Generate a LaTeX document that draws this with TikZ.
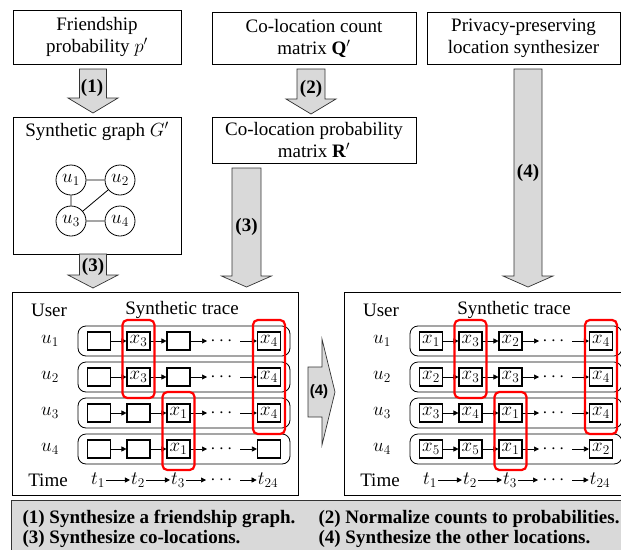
\RequirePackage{fix-cm}
\documentclass[tikz,border=0pt]{standalone}
\usepackage{amsmath}
\usepackage{fontspec}
\setmainfont{Liberation Serif}
\setsansfont{Liberation Sans}
\newfontfamily\serifrm{Liberation Serif}
\newfontfamily\sansrm{Liberation Sans}
\usepackage{tikz}
\usetikzlibrary{arrows.meta,fit}
\definecolor{blkgray}{RGB}{217,217,217}
\definecolor{hlred}{RGB}{255,0,0}
\tikzstyle{es} = [-{Triangle[length=5pt,width=5pt]}, line width=0.6pt]
\tikzstyle{tbox} = [draw, line width=0.9pt, align=center, inner sep=0pt]
\tikzstyle{blk} = [draw=black!80, fill=blkgray, line width=0.7pt]
\tikzstyle{panel} = [draw, line width=0.9pt, minimum width=286pt, minimum height=203pt, inner sep=0pt]
\tikzstyle{trow} = [draw, rounded corners=8pt, line width=0.8pt, minimum width=212pt, minimum height=30pt, inner sep=0pt]
\tikzstyle{cell} = [draw, line width=1.1pt, minimum width=23pt, minimum height=18pt, inner sep=0pt]
\tikzstyle{vtx} = [draw, circle, line width=0.8pt, minimum size=30pt, inner sep=0pt]
\tikzstyle{hl} = [draw=hlred, line width=2.2pt, rounded corners=5pt, inner xsep=4pt, inner ysep=11.5pt]
\tikzstyle{lbl} = [font=\serifrm\fontsize{19}{22}\selectfont\bfseries]

\begin{document}
\begin{tikzpicture}[x=1pt,y=-1pt,font=\serifrm\fontsize{19}{22}\selectfont]
\useasboundingbox (0,0) rectangle (621,549);
\clip (0,0) rectangle (621,549);
\node[tbox,minimum width=168pt,minimum height=54pt] (fp) at (97,37) {Friendship\\probability $p'$};
\node[tbox,minimum width=204pt,minimum height=52pt] (qc) at (314,38) {Co-location count\\matrix $\mathbf{Q}'$};
\node[tbox,minimum width=193pt,minimum height=52pt] (ls) at (523.5,38) {Privacy-preserving\\location synthesizer};
\node[tbox,minimum width=168pt,minimum height=137pt] (sg) at (97,185.5) {};
\node (sgt) at (97,131) {Synthetic graph $G'$};
\node[tbox,minimum width=204pt,minimum height=46pt] (rp) at (314,140) {Co-location probability\\matrix $\mathbf{R}'$};
\node[vtx] (u1) at (71,180) {$u_1$};
\node[vtx] (u2) at (120,180) {$u_2$};
\node[vtx] (u3) at (71,221) {$u_3$};
\node[vtx] (u4) at (120,221) {$u_4$};
\draw[line width=0.8pt] (u1) -- (u2) (u1) -- (u3) (u2) -- (u3) (u3) -- (u4);
\draw[blk] (79.5,69) -- (106.5,69) -- (106.5,98) -- (118,98) -- (93,113) -- (68,98) -- (79.5,98) -- cycle;
\node[lbl] (s1) at (92,88) {(1)};
\draw[blk] (297,69) -- (325,69) -- (325,99) -- (336,99) -- (311,114) -- (286,99) -- (297,99) -- cycle;
\node[lbl] (s2) at (311,89) {(2)};
\draw[blk] (79.5,254) -- (106.5,254) -- (106.5,275) -- (118,275) -- (93,288) -- (68,275) -- (79.5,275) -- cycle;
\node[lbl] (s3a) at (93,267) {(3)};
\draw[blk] (232,168) -- (261,168) -- (261,276) -- (271.5,276) -- (246.5,287) -- (221.5,276) -- (232,276) -- cycle;
\node[lbl] (s3b) at (246.5,227) {(3)};
\draw[blk] (514,69) -- (542,69) -- (542,276) -- (553,276) -- (528,287) -- (503,276) -- (514,276) -- cycle;
\node[lbl] (s4a) at (528,173) {(4)};
\draw[blk] (308,367) -- (322,367) -- (322,339) -- (335,392) -- (322,445) -- (322,417) -- (308,417) -- cycle;
\node[font=\sansrm\fontsize{15}{16}\selectfont\bfseries] (s4b) at (319,392) {(4)};
\node[panel] (lpan) at (155,393.5) {};
\node[panel] (rpan) at (487,393.5) {};
\foreach \p/\dx in {L/0,R/332}{
  \node (\p-user) at (49+\dx,310) {User};
  \node (\p-head) at (182+\dx,310) {Synthetic trace};
  \node (\p-time) at (48+\dx,480) {Time};
  \node[inner sep=1pt] (\p-t1) at (98+\dx,480) {$t_1$};
  \node[inner sep=1pt] (\p-t2) at (138+\dx,480) {$t_2$};
  \node[inner sep=1pt] (\p-t3) at (178+\dx,480) {$t_3$};
  \node (\p-td) at (223+\dx,480) {$\cdots$};
  \node[inner sep=1pt] (\p-t24) at (268+\dx,480) {$t_{24}$};
  \coordinate (\p-ta) at (206+\dx,480);
  \coordinate (\p-tb) at (240+\dx,480);
  \draw[es] (\p-t1) -- (\p-t2);
  \draw[es] (\p-t2) -- (\p-t3);
  \draw[es] (\p-t3) -- (\p-ta);
  \draw[es] (\p-tb) -- (\p-t24);
}
\foreach \p/\dx/\r/\xa/\xb/\xc/\xd in {L/0/1/{}/x_3/{}/x_4, L/0/2/{}/x_3/{}/x_4, L/0/3/{}/{}/x_1/x_4, L/0/4/{}/{}/x_1/{},
    R/332/1/x_1/x_3/x_2/x_4, R/332/2/x_2/x_3/x_3/x_4, R/332/3/x_3/x_4/x_1/x_4, R/332/4/x_5/x_5/x_1/x_2}{
  \pgfmathsetmacro\ry{341+36*(\r-1)}
  \node[trow] (\p-row\r) at (184+\dx,\ry) {};
  \node (\p-u\r) at (50+\dx,\ry) {$u_\r$};
  \node[cell] (\p-\r-1) at (99+\dx,\ry) {$\xa$};
  \node[cell] (\p-\r-2) at (138.5+\dx,\ry) {$\xb$};
  \node[cell] (\p-\r-3) at (178.5+\dx,\ry) {$\xc$};
  \node[cell] (\p-\r-4) at (269+\dx,\ry) {$\xd$};
  \node (\p-\r-d) at (223+\dx,\ry) {$\cdots$};
  \coordinate (\p-\r-a) at (207+\dx,\ry);
  \coordinate (\p-\r-b) at (240+\dx,\ry);
  \draw[es] (\p-\r-1) -- (\p-\r-2);
  \draw[es] (\p-\r-2) -- (\p-\r-3);
  \draw[es] (\p-\r-3) -- (\p-\r-a);
  \draw[es] (\p-\r-b) -- (\p-\r-4);
}
\foreach \p in {L,R}{
  \node[hl,fit=(\p-1-2)(\p-2-2)] (\p-hla) {};
  \node[hl,fit=(\p-3-3)(\p-4-3)] (\p-hlb) {};
  \node[hl,fit=(\p-1-4)(\p-3-4)] (\p-hlc) {};
}
\node[draw=black!80,fill=blkgray,line width=0.9pt,minimum width=629pt,minimum height=60pt,inner sep=0pt] (key) at (325.5,530) {};
\node[lbl,anchor=west] (k1) at (19,519) {(1) Synthesize a friendship graph.};
\node[lbl,anchor=west] (k2) at (315,519) {(2) Normalize counts to probabilities.};
\node[lbl,anchor=west] (k3) at (19,539) {(3) Synthesize co-locations.};
\node[lbl,anchor=west] (k4) at (315,539) {(4) Synthesize the other locations.};
\end{tikzpicture}
\end{document}
